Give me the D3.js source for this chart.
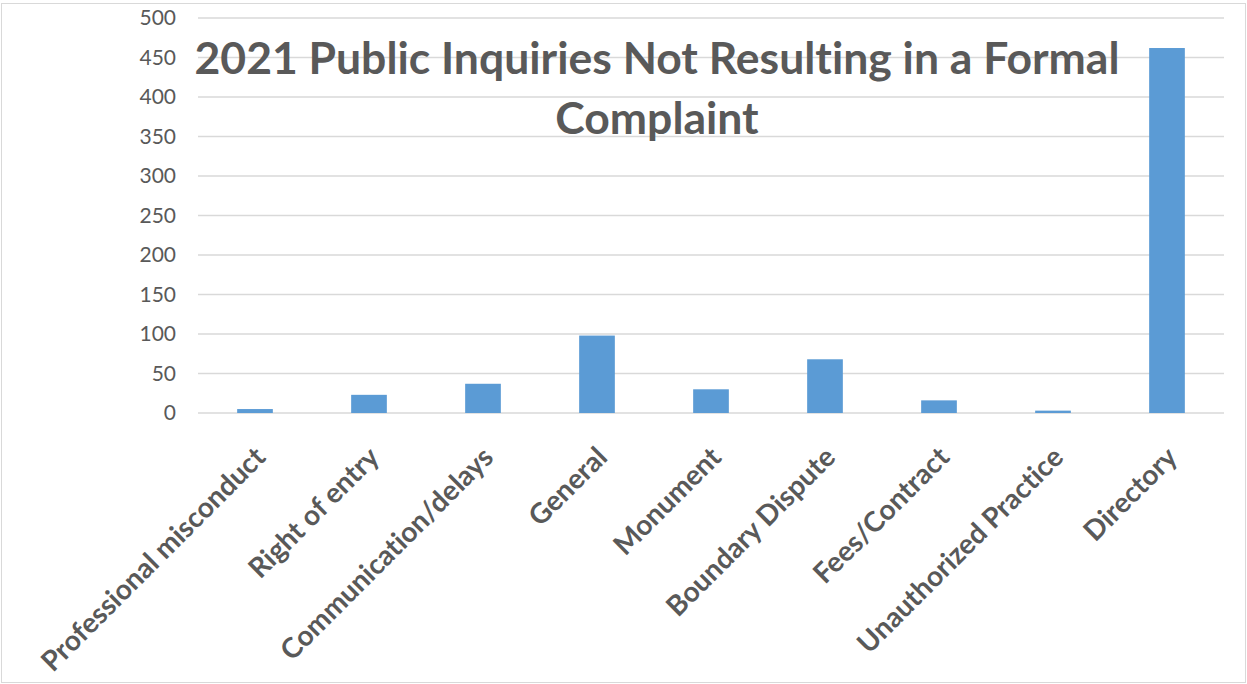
<!DOCTYPE html>
<html>
<head>
<meta charset="utf-8">
<script src="https://cdn.jsdelivr.net/npm/d3@7"></script>
<style>
  body { margin: 0; background: #fff; }
  svg text { font-variant-ligatures: none; }
  .axis text { font-family: Lato, "Open Sans", sans-serif; fill: #595959; }
  .axis path, .axis line { stroke: none; }
</style>
</head>
<body>
<div class="graph"></div>
<script>
// inquiry types and counts for 2021
var categories = ['Professional misconduct', 'Right of entry', 'Communication/delays', 'General',
  'Monument', 'Boundary Dispute', 'Fees/Contract', 'Unauthorized Practice', 'Directory'];
var counts = [5, 23, 37, 98, 30, 68, 16, 3, 462];
var yTicks = [0, 50, 100, 150, 200, 250, 300, 350, 400, 450, 500];
var titleLines = ['2021 Public Inquiries Not Resulting in a Formal', 'Complaint'];

var W = 1247, H = 684;
var margin = {top: 18, right: 23, bottom: 271, left: 198},
    width = W - margin.left - margin.right,
    height = H - margin.top - margin.bottom;

var svg = d3.select(".graph").append("svg")
    .attr("width", W)
    .attr("height", H);

// outer chart border
svg.append("rect")
    .attr("x", 1.5).attr("y", 3.5)
    .attr("width", W - 3).attr("height", H - 5)
    .attr("fill", "#fff")
    .attr("stroke", "#d9d9d9");

var g = svg.append("g")
    .attr("transform", "translate(" + margin.left + "," + margin.top + ")");

var x = d3.scaleBand().domain(categories).range([0, width]).paddingInner(0.687).paddingOuter(0.3435);
var y = d3.scaleLinear().domain([0, 500]).range([height, 0]);

// gridlines
g.selectAll(".grid")
    .data(yTicks)
    .enter().append("line")
    .attr("class", "grid")
    .attr("x1", 0).attr("x2", width)
    .attr("y1", function(d) { return y(d); })
    .attr("y2", function(d) { return y(d); })
    .attr("stroke", "#d9d9d9")
    .attr("stroke-width", 1.5);

// y axis
var yAxis = d3.axisLeft(y).tickValues(yTicks).tickSize(0).tickPadding(22);
g.append("g")
    .attr("class", "y axis")
    .call(yAxis)
    .selectAll("text")
    .style("font-size", "21px");

// bars
g.selectAll(".bar")
    .data(counts)
    .enter().append("rect")
    .attr("class", "bar")
    .attr("x", function(d, i) { return x(categories[i]); })
    .attr("width", x.bandwidth())
    .attr("y", function(d) { return y(d); })
    .attr("height", function(d) { return height - y(d); })
    .attr("fill", "#5b9bd5");

// x axis with rotated labels
var xAxis = d3.axisBottom(x).tickSize(0).tickPadding(0);
var xg = g.append("g")
    .attr("class", "x axis")
    .attr("transform", "translate(0," + height + ")")
    .call(xAxis);
xg.selectAll("text")
    .style("font-size", "28px")
    .style("font-weight", "bold")
    .style("text-anchor", "end")
    .attr("dy", 0)
    .attr("y", 0)
    .attr("transform", "translate(12,46) rotate(-45)");

// title
svg.append("g").selectAll("text")
    .data(titleLines)
    .enter().append("text")
    .attr("x", 657)
    .attr("y", function(d, i) { return 74 + i * 60; })
    .attr("text-anchor", "middle")
    .style("font-family", "Lato, 'Open Sans', sans-serif")
    .style("font-weight", "bold")
    .style("font-size", "44.5px")
    .style("fill", "#595959")
    .text(function(d) { return d; });
</script>
</body>
</html>
